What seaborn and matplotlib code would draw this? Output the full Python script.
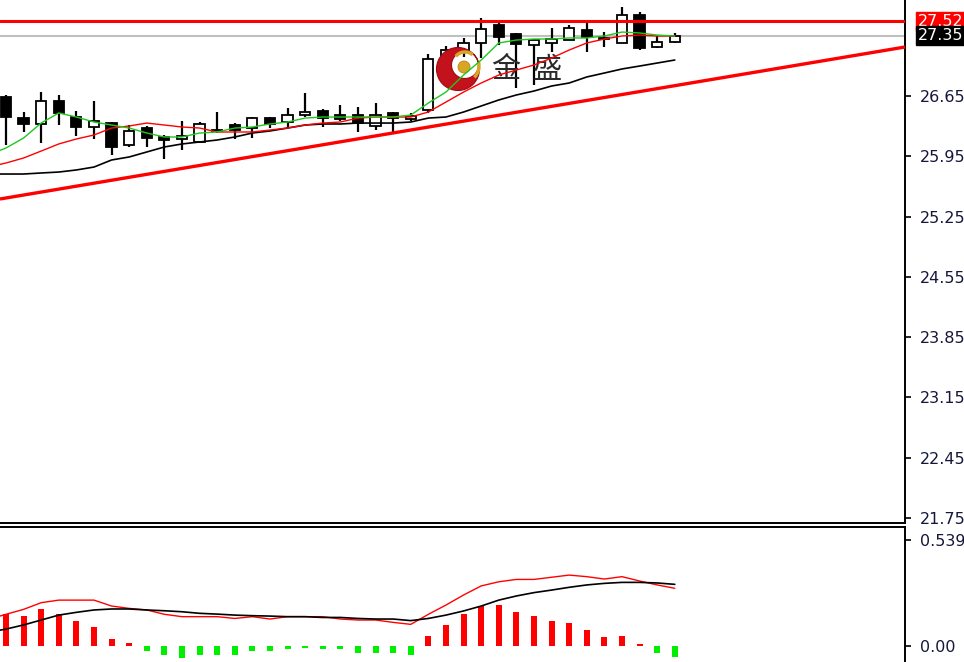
import numpy as np
import pandas as pd
import matplotlib
matplotlib.use("Agg")
import matplotlib.pyplot as plt
from matplotlib.patches import PathPatch, Circle, Arc
from matplotlib.path import Path
from matplotlib.transforms import Affine2D, IdentityTransform
import seaborn as sns

# ── data ─────────────────────────────────────────────────────────────────────
idx = list(range(39))
opens = [26.638, 26.394, 26.325, 26.592, 26.406, 26.290, 26.336, 26.081, 26.278, 26.174,
         26.151, 26.116, 26.244, 26.313, 26.278, 26.394, 26.348, 26.429, 26.476, 26.429,
         26.429, 26.302, 26.453, 26.383, 26.487, 27.045, 27.161, 27.266, 27.475, 27.370,
         27.242, 27.266, 27.300, 27.417, 27.312, 27.266, 27.591, 27.219, 27.277]
highs = [26.662, 26.464, 26.696, 26.662, 26.476, 26.592, 26.348, 26.313, 26.302, 26.197,
         26.360, 26.348, 26.464, 26.336, 26.406, 26.406, 26.511, 26.685, 26.499, 26.545,
         26.522, 26.569, 26.464, 26.453, 27.138, 27.231, 27.324, 27.556, 27.498, 27.382,
         27.312, 27.440, 27.475, 27.498, 27.393, 27.684, 27.626, 27.347, 27.382]
lows = [26.081, 26.232, 26.104, 26.313, 26.185, 26.151, 25.965, 26.058, 26.058, 25.918,
        26.023, 26.104, 26.220, 26.151, 26.162, 26.278, 26.278, 26.406, 26.290, 26.360,
        26.232, 26.255, 26.232, 26.360, 26.453, 26.975, 27.103, 27.091, 27.242, 26.743,
        26.778, 27.161, 27.300, 27.161, 27.219, 27.266, 27.184, 27.207, 27.266]
closes = [26.406, 26.325, 26.592, 26.453, 26.290, 26.360, 26.058, 26.244, 26.162, 26.139,
          26.185, 26.325, 26.255, 26.255, 26.394, 26.325, 26.429, 26.464, 26.394, 26.383,
          26.336, 26.429, 26.394, 26.418, 27.080, 27.184, 27.266, 27.428, 27.335, 27.254,
          27.300, 27.312, 27.440, 27.335, 27.324, 27.591, 27.207, 27.277, 27.350]

ma_idx = list(range(-1, 39))
ma_fast = [25.965, 26.046, 26.162, 26.336, 26.453, 26.406, 26.348, 26.313, 26.278, 26.220,
           26.174, 26.174, 26.220, 26.232, 26.278, 26.290, 26.325, 26.348, 26.394, 26.406,
           26.406, 26.406, 26.406, 26.406, 26.429, 26.569, 26.696, 26.894, 27.068, 27.266,
           27.300, 27.312, 27.312, 27.324, 27.324, 27.347, 27.393, 27.382, 27.358, 27.347]
ma_mid = [25.825, 25.872, 25.930, 26.011, 26.093, 26.151, 26.197, 26.278, 26.302, 26.336,
          26.313, 26.290, 26.278, 26.232, 26.232, 26.232, 26.255, 26.278, 26.313, 26.336,
          26.348, 26.394, 26.406, 26.406, 26.406, 26.464, 26.580, 26.696, 26.801, 26.894,
          26.952, 27.010, 27.091, 27.184, 27.266, 27.312, 27.347, 27.358, 27.347, 27.347]
ma_slow = [25.744, 25.744, 25.744, 25.756, 25.767, 25.791, 25.825, 25.907, 25.942, 26.000,
           26.058, 26.093, 26.116, 26.139, 26.174, 26.220, 26.244, 26.278, 26.313, 26.325,
           26.325, 26.336, 26.336, 26.336, 26.348, 26.394, 26.406, 26.464, 26.534, 26.604,
           26.662, 26.708, 26.766, 26.801, 26.871, 26.917, 26.964, 26.998, 27.033, 27.068]

resistance = 27.52
last_price = 27.35
trend_x = [-0.34, 51.08]
trend_y = [25.454, 27.219]
price_ticks = [26.65, 25.95, 25.25, 24.55, 23.85, 23.15, 22.45, 21.75]

macd_hist = [0.161, 0.152, 0.188, 0.161, 0.127, 0.098, 0.034, 0.017, -0.025, -0.046,
             -0.059, -0.046, -0.046, -0.046, -0.025, -0.025, -0.017, -0.008, -0.017, -0.017,
             -0.034, -0.034, -0.034, -0.046, 0.052, 0.107, 0.161, 0.203, 0.208, 0.171,
             0.152, 0.127, 0.115, 0.081, 0.044, 0.052, 0.008, -0.034, -0.054]
macd_dif = [0.135, 0.161, 0.186, 0.220, 0.233, 0.233, 0.233, 0.203, 0.191, 0.183, 0.161,
            0.149, 0.149, 0.149, 0.140, 0.149, 0.137, 0.149, 0.149, 0.149, 0.137,
            0.132, 0.132, 0.120, 0.110, 0.161, 0.208, 0.259, 0.305, 0.326, 0.338,
            0.338, 0.349, 0.360, 0.352, 0.340, 0.352, 0.330, 0.310, 0.293]
macd_dea = [0.070, 0.086, 0.107, 0.132, 0.157, 0.171, 0.183, 0.188, 0.188, 0.183, 0.179,
            0.174, 0.166, 0.162, 0.157, 0.154, 0.152, 0.149, 0.149, 0.145, 0.145,
            0.140, 0.137, 0.137, 0.129, 0.140, 0.157, 0.178, 0.203, 0.233, 0.254,
            0.271, 0.284, 0.298, 0.310, 0.318, 0.323, 0.323, 0.320, 0.313]
macd_ticks = [0.539, 0.0]
macd_labels = ["0.539", "0.00"]

df = pd.DataFrame({"i": idx, "o": opens, "h": highs, "l": lows, "c": closes})
ma = pd.DataFrame({"i": ma_idx, "fast": ma_fast, "mid": ma_mid, "slow": ma_slow,
                   "dif": macd_dif, "dea": macd_dea})

# ── figure ───────────────────────────────────────────────────────────────────
sns.set_theme(style="white")
plt.rcParams["font.family"] = ["DejaVu Sans"]
TXT = "#16163a"
FS = 11.5

W, H = 964, 662
fig = plt.figure(figsize=(W / 100, H / 100), dpi=100)
ax = fig.add_axes([0, (H - 523) / H, 905 / W, 523 / H])
ax2 = fig.add_axes([0, 0, 905 / W, (H - 527) / H])

# -- price panel
ax.vlines(df["i"], df["l"], df["h"], color="black", lw=1.6, zorder=2)
body_lo = np.minimum(df["o"], df["c"])
body_h = np.maximum(np.abs(df["c"] - df["o"]), 0.006)
body_fc = ["black" if c < o else "white" for o, c in zip(df["o"], df["c"])]
ax.bar(df["i"], body_h, bottom=body_lo, width=0.58, color=body_fc,
       edgecolor="black", lw=1.3, zorder=3)

# logo (crescent + gold ball), drawn in pixel space
cx, cy = 458, H - 69
outer = Path.circle((cx, cy), 21.5)
inner = Path.circle((0, 0), 13.5).transformed(Affine2D().scale(-1, 1).translate(cx + 7, cy + 4))
crescent = Path.make_compound_path(outer, inner)
ax.add_patch(PathPatch(crescent, fc="#c4121c", ec="#9a0c12", lw=0.8,
                       transform=IdentityTransform(), zorder=4))
ax.add_patch(Circle((464, H - 67), 6, fc="#d8a624", ec="#b8861a", lw=0.6,
                    transform=IdentityTransform(), zorder=4.1))
ax.add_patch(Arc((465, H - 64), 24, 24, theta1=50, theta2=140, color="#d8a624", lw=2.5,
                 transform=IdentityTransform(), zorder=4.1))
ax.add_patch(Arc((463, H - 66), 32, 32, theta1=-45, theta2=15, color="#d8a624", lw=2.5,
                 transform=IdentityTransform(), zorder=4.1))
ax.text(506 / 905, (523 - 70) / 523, "金", transform=ax.transAxes, fontsize=21,
        family=["Noto Sans CJK SC"], color="#2a2a2a", ha="center", va="center", zorder=4.2)
ax.text(547 / 905, (523 - 70) / 523, "盛", transform=ax.transAxes, fontsize=21,
        family=["Noto Sans CJK SC"], color="#2a2a2a", ha="center", va="center", zorder=4.2)

sns.lineplot(data=ma, x="i", y="slow", color="black", lw=1.2, ax=ax, zorder=5)
sns.lineplot(data=ma, x="i", y="mid", color="#ff0000", lw=1.0, ax=ax, zorder=5)
sns.lineplot(data=ma, x="i", y="fast", color="#1ec81e", lw=1.0, ax=ax, zorder=5)

ax.plot(trend_x, trend_y, color="#ff0000", lw=2.4, zorder=5, solid_capstyle="butt")
ax.axhline(last_price, color="#c0c0c0", lw=1.5, zorder=1)
ax.axhline(resistance, color="#ff0000", lw=2.2, zorder=5)

ax.set_xlim(-0.34, 51.08)
ax.set_ylim(21.691, 27.765)
ax.set_xlabel("")
ax.set_ylabel("")
ax.set_xticks([])
ax.yaxis.tick_right()
ax.set_yticks(price_ticks)
ax.set_yticklabels([f"{t:.2f}" for t in price_ticks])
ax.tick_params(axis="y", direction="out", length=4, width=1.2, pad=7,
               labelsize=FS, colors="black", labelcolor=TXT, right=True, left=False)
for s in ["left", "top"]:
    ax.spines[s].set_visible(False)
for s in ["right", "bottom"]:
    ax.spines[s].set_color("black")
    ax.spines[s].set_linewidth(1.4)

ax.annotate(f"{resistance:.2f}", xy=(1.0, resistance), xycoords=("axes fraction", "data"),
            xytext=(13, 0), textcoords="offset pixels", ha="left", va="center",
            fontsize=FS, color="white", annotation_clip=False,
            bbox=dict(boxstyle="square,pad=0.12", fc="#ff0000", ec="#ff0000"))
ax.annotate(f"{last_price:.2f}", xy=(1.0, last_price), xycoords=("axes fraction", "data"),
            xytext=(13, 0), textcoords="offset pixels", ha="left", va="center",
            fontsize=FS, color="white", annotation_clip=False,
            bbox=dict(boxstyle="square,pad=0.12", fc="black", ec="black"))

# -- MACD panel
bar_c = ["#ff0000" if v > 0 else "#00ee00" for v in macd_hist]
ax2.bar(idx, macd_hist, width=0.34, color=bar_c, lw=0, zorder=2)
sns.lineplot(data=ma, x="i", y="dif", color="#ff0000", lw=1.0, ax=ax2, zorder=3)
sns.lineplot(data=ma, x="i", y="dea", color="black", lw=1.2, ax=ax2, zorder=3)
ax2.set_xlim(-0.34, 51.08)
ax2.set_ylim(-0.081, 0.604)
ax2.set_xlabel("")
ax2.set_ylabel("")
ax2.set_xticks([])
ax2.yaxis.tick_right()
ax2.set_yticks(macd_ticks)
ax2.set_yticklabels(macd_labels)
ax2.tick_params(axis="y", direction="out", length=4, width=1.2, pad=7,
                labelsize=FS, colors="black", labelcolor=TXT, right=True, left=False)
for s in ["left", "bottom"]:
    ax2.spines[s].set_visible(False)
for s in ["right", "top"]:
    ax2.spines[s].set_color("black")
    ax2.spines[s].set_linewidth(1.4)

fig.savefig("out.png", dpi=100)
